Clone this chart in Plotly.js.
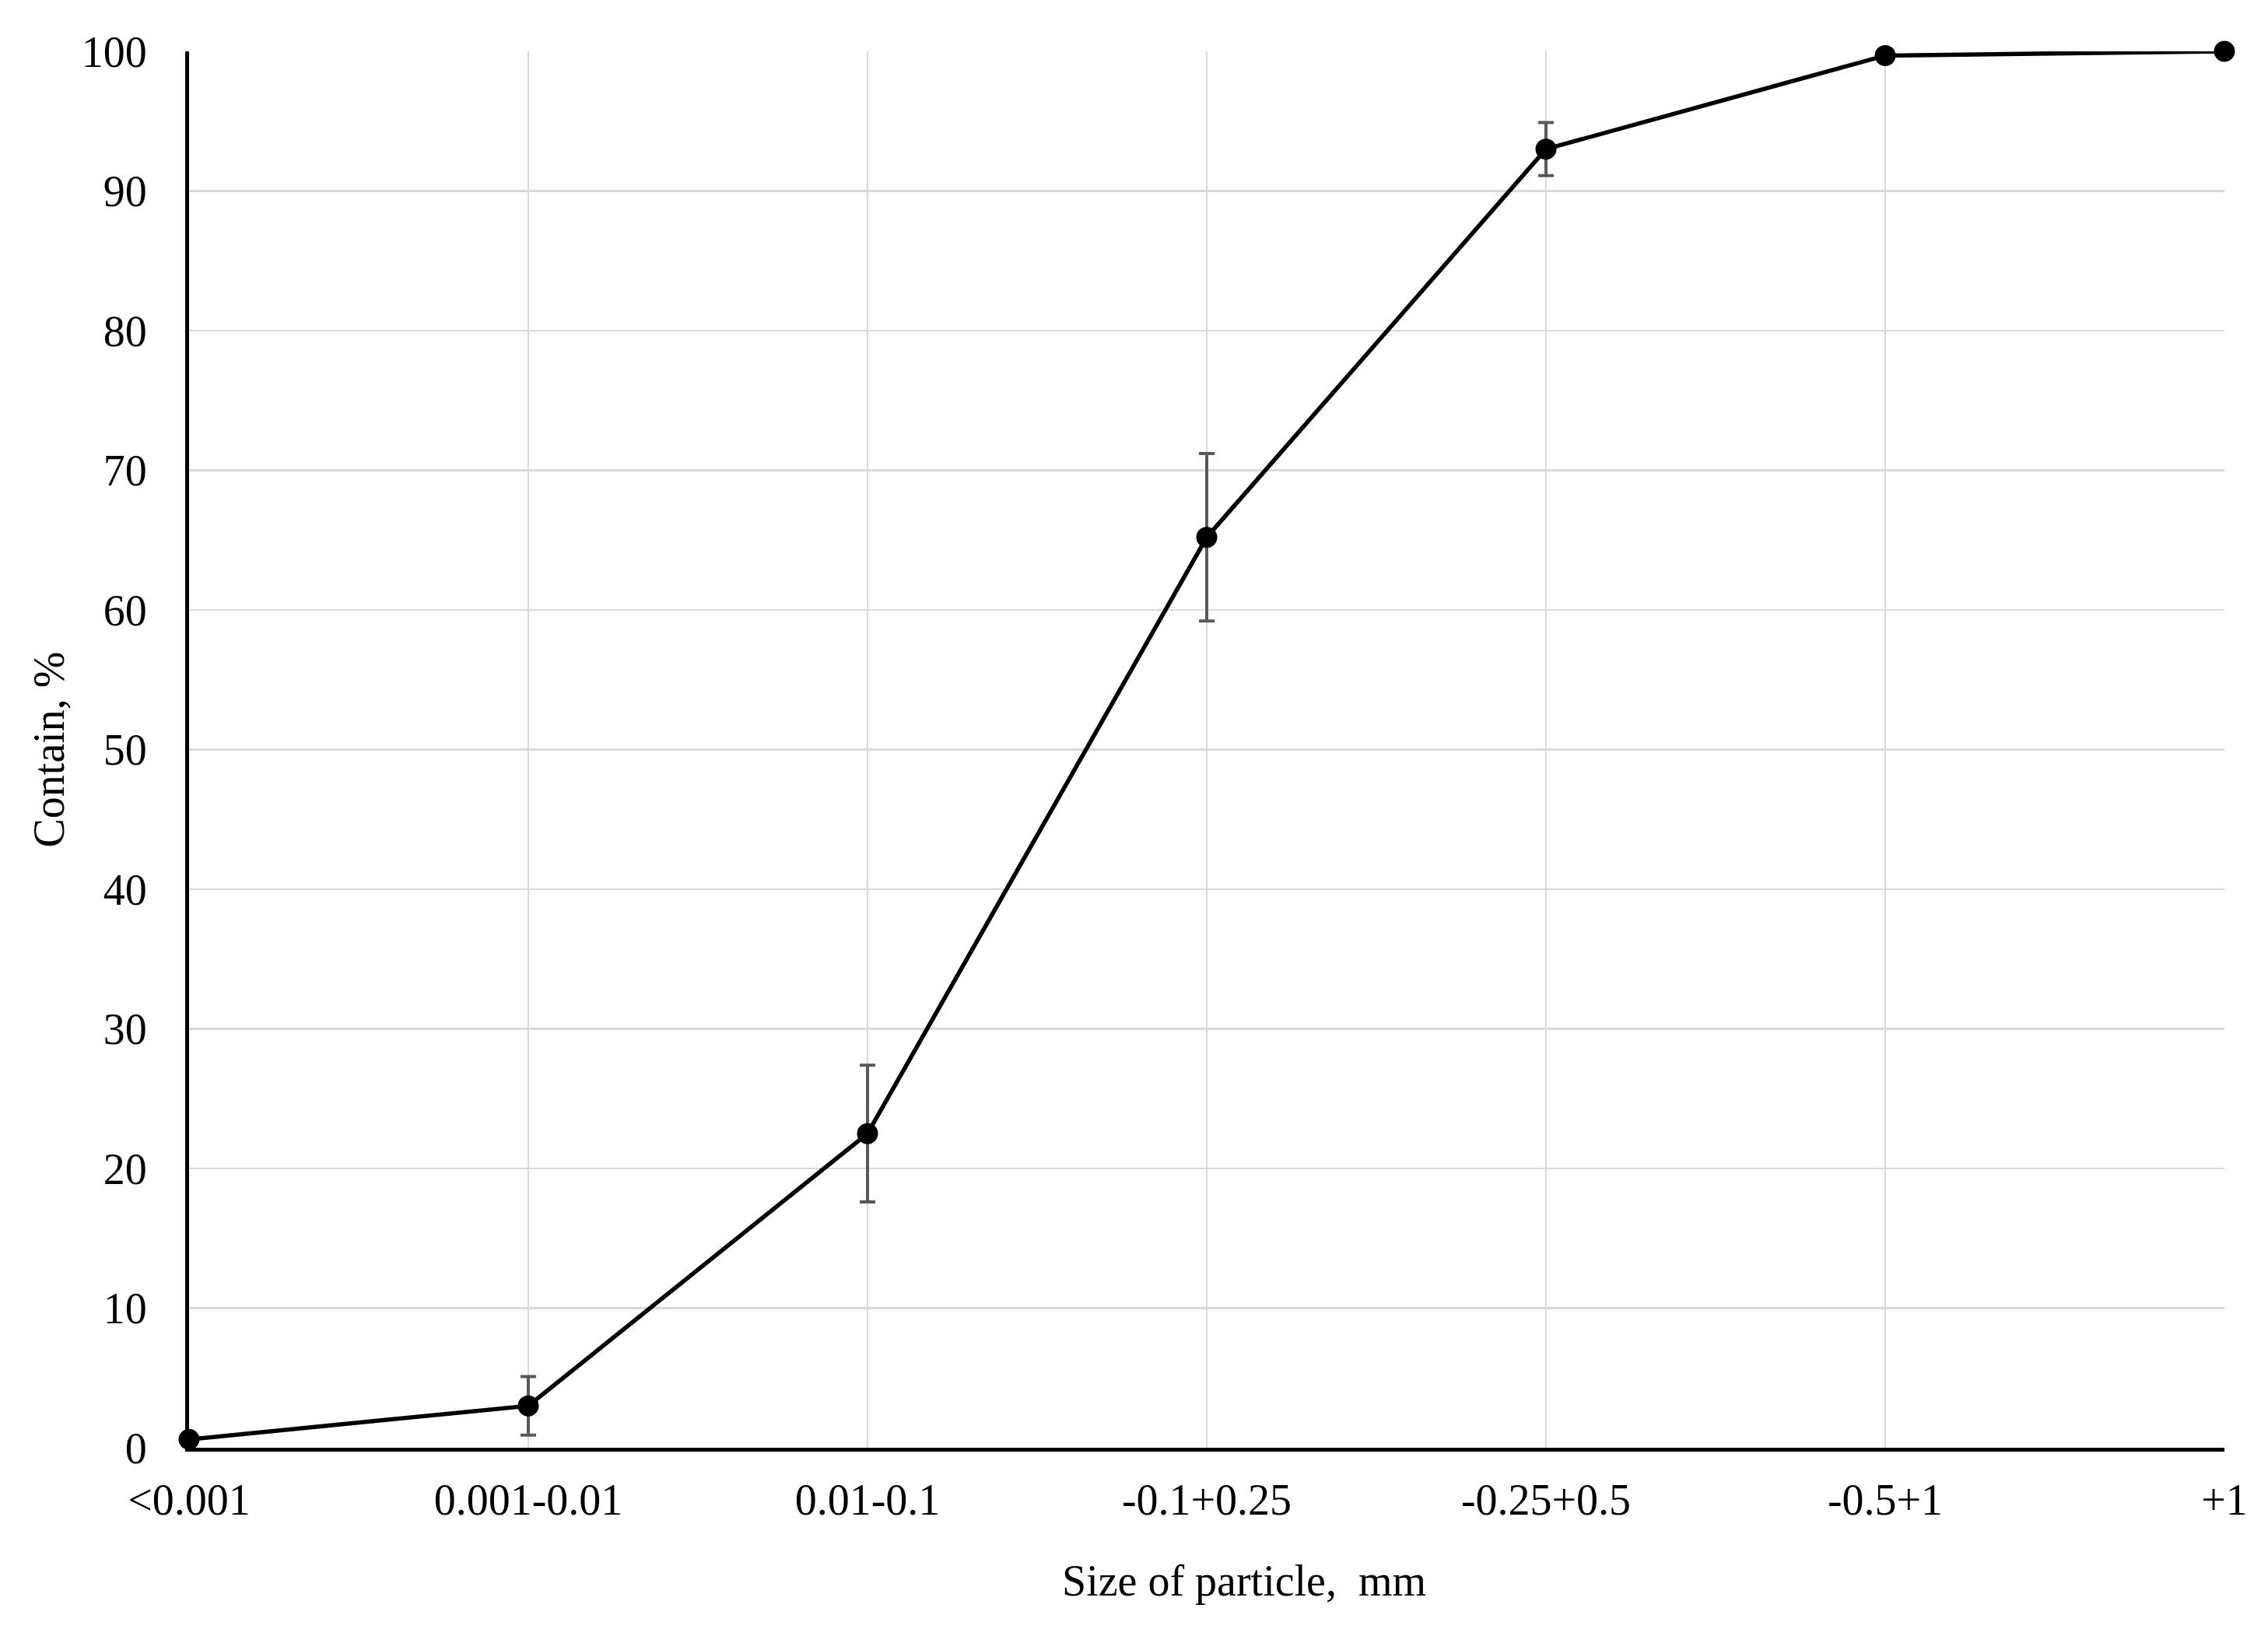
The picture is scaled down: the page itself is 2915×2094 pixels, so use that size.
<!DOCTYPE html>
<html>
<head>
<meta charset="utf-8">
<script src="https://cdn.plot.ly/plotly-3.0.1.min.js"></script>
<style>html,body{margin:0;padding:0;background:#fff;}#chart{width:2915px;height:2094px;}</style>
</head>
<body>
<div id="chart"></div>
<script>
const categories = ["<0.001", "0.001-0.01", "0.01-0.1", "-0.1+0.25", "-0.25+0.5", "-0.5+1", "+1"];
const contain = [0.6, 3.0, 22.5, 65.2, 93.0, 99.7, 100];
const errors = [0, 2.1, 4.9, 6.0, 1.9, 0, 0];
const yTicks = [0, 10, 20, 30, 40, 50, 60, 70, 80, 90, 100];
const xTitle = "Size of particle,  mm";
const yTitle = "Contain, %";

const font = {family: "'Times New Roman', 'Liberation Serif', serif", size: 56, color: "#000"};

const trace = {
  x: categories.map((c, i) => i),
  y: contain,
  type: "scatter",
  mode: "lines+markers",
  line: {color: "#000", width: 5.5},
  marker: {color: "#000", size: 27},
  error_y: {type: "data", array: errors, visible: true, color: "#595959", thickness: 4, width: 10},
  cliponaxis: false,
  hoverinfo: "none"
};

const layout = {
  width: 2915, height: 2094,
  margin: {l: 243, r: 56, t: 66, b: 233},
  paper_bgcolor: "#fff", plot_bgcolor: "#fff",
  font: font,
  showlegend: false,
  xaxis: {
    range: [0, categories.length - 1],
    tickmode: "array",
    tickvals: categories.map((c, i) => i),
    ticktext: categories,
    showgrid: true, gridcolor: "#d9d9d9", gridwidth: 2.5,
    zeroline: false,
    showline: true, linecolor: "#000", linewidth: 5,
    ticks: "", ticklabelstandoff: 14,
    tickfont: font
  },
  yaxis: {
    range: [0, 100],
    tickmode: "array",
    tickvals: yTicks,
    ticktext: yTicks.map(String),
    showgrid: true, gridcolor: "#d9d9d9", gridwidth: 2.5,
    zeroline: false,
    showline: true, linecolor: "#000", linewidth: 5,
    ticks: "", ticklabelstandoff: 38,
    tickfont: font,
    title: {text: yTitle, font: font, standoff: 6}
  },
  annotations: [{
    text: xTitle, xref: "paper", yref: "paper",
    x: 0.5185, y: 0, yshift: -171, xanchor: "center", yanchor: "middle",
    showarrow: false, font: font
  }]
};

Plotly.newPlot("chart", [trace], layout, {staticPlot: true, displayModeBar: false});
</script>
</body>
</html>
